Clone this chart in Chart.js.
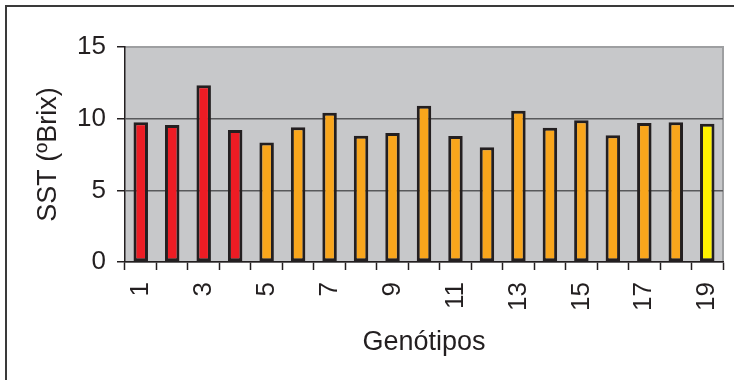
<!DOCTYPE html>
<html>
<head>
<meta charset="utf-8">
<script src="https://cdn.jsdelivr.net/npm/chart.js@4/dist/chart.umd.min.js"></script>
<style>
  html, body { margin: 0; padding: 0; background: #ffffff; }
  #wrap { width: 734px; height: 380px; position: relative; }
  canvas { display: block; }
</style>
</head>
<body>
<div id="wrap"><canvas id="chart" width="734" height="380"></canvas></div>
<script>
// Genotypes on the x axis
const genotipos = ['1', '2', '3', '4', '5', '6', '7', '8', '9', '10',
                   '11', '12', '13', '14', '15', '16', '17', '18', '19'];
// Soluble solids (ºBrix) per genotype
const sst = [9.75, 9.56, 12.33, 9.21, 8.33, 9.40, 10.42, 8.81, 9.00, 10.90,
             8.79, 8.00, 10.56, 9.37, 9.89, 8.84, 9.70, 9.75, 9.65];
// Group of each genotype
const grupo = ['A', 'A', 'A', 'A', 'B', 'B', 'B', 'B', 'B', 'B',
               'B', 'B', 'B', 'B', 'B', 'B', 'B', 'B', 'C'];
// Y axis tick values
const yTicks = [0, 5, 10, 15];

const groupColor = { A: '#ed1c24', B: '#f9a61c', C: '#fff200' };
const ink = '#231f20';
const font = "'Liberation Sans', Arial, sans-serif";

// Plot background, plot frame and the outer figure frame
const framePlugin = {
  id: 'frame',
  beforeDraw(chart) {
    const { ctx, chartArea: a } = chart;
    ctx.save();
    ctx.fillStyle = '#c7c8ca';
    ctx.fillRect(a.left, a.top, a.right - a.left, a.bottom - a.top);
    ctx.strokeStyle = '#9e9fa1';
    ctx.lineWidth = 2;
    ctx.beginPath();
    ctx.moveTo(a.left, a.top);
    ctx.lineTo(a.right, a.top);
    ctx.lineTo(a.right, a.bottom);
    ctx.stroke();
    ctx.strokeStyle = '#3a3a3a';
    ctx.lineWidth = 2;
    ctx.beginPath();
    ctx.moveTo(6, 380);
    ctx.lineTo(6, 6);
    ctx.lineTo(734, 6);
    ctx.stroke();
    ctx.restore();
  }
};

new Chart(document.getElementById('chart'), {
  type: 'bar',
  data: {
    labels: genotipos,
    datasets: [{
      data: sst,
      backgroundColor: grupo.map(g => groupColor[g]),
      borderColor: ink,
      borderWidth: 3,
      borderSkipped: false,
      barPercentage: 0.46,
      categoryPercentage: 1.0
    }]
  },
  options: {
    responsive: false,
    animation: false,
    devicePixelRatio: 1,
    layout: { padding: { left: 0, top: 47, right: 11, bottom: 0 } },
    plugins: { legend: { display: false }, tooltip: { enabled: false } },
    scales: {
      x: {
        offset: true,
        grid: {
          offset: true,
          drawOnChartArea: false,
          drawTicks: true,
          tickLength: 8,
          tickColor: ink,
          tickWidth: 1.5
        },
        border: { display: true, color: ink, width: 1.5 },
        ticks: {
          autoSkip: false,
          minRotation: 90,
          maxRotation: 90,
          padding: 12,
          color: ink,
          font: { family: font, size: 26 },
          callback: (v, i) => (i % 2 === 0 ? genotipos[i] : '')
        },
        title: {
          display: true,
          text: 'Genótipos',
          color: ink,
          font: { family: font, size: 27 },
          padding: { top: 0, bottom: 21 }
        },
        afterFit(scale) {
          scale.height = 118;
          scale.paddingLeft = 0;
          scale.paddingRight = 0;
        }
      },
      y: {
        min: 0,
        max: 15,
        afterBuildTicks(scale) {
          scale.ticks = yTicks.map(v => ({ value: v }));
        },
        grid: {
          drawTicks: true,
          tickLength: 8,
          tickColor: ink,
          tickWidth: 1.5,
          lineWidth: 1.5,
          color: ctx => (ctx.tick && ctx.tick.value === 15 ? 'rgba(0,0,0,0)' : '#58595b')
        },
        border: { display: true, color: ink, width: 1.5 },
        ticks: {
          padding: 11,
          color: ink,
          font: { family: font, size: 26 }
        },
        title: {
          display: true,
          text: 'SST (ºBrix)',
          color: ink,
          font: { family: font, size: 27 },
          padding: { top: 32, bottom: 0 }
        },
        afterFit(scale) {
          scale.width = 125;
          scale.paddingTop = 0;
          scale.paddingBottom = 0;
        }
      }
    }
  },
  plugins: [framePlugin]
});
</script>
</body>
</html>
